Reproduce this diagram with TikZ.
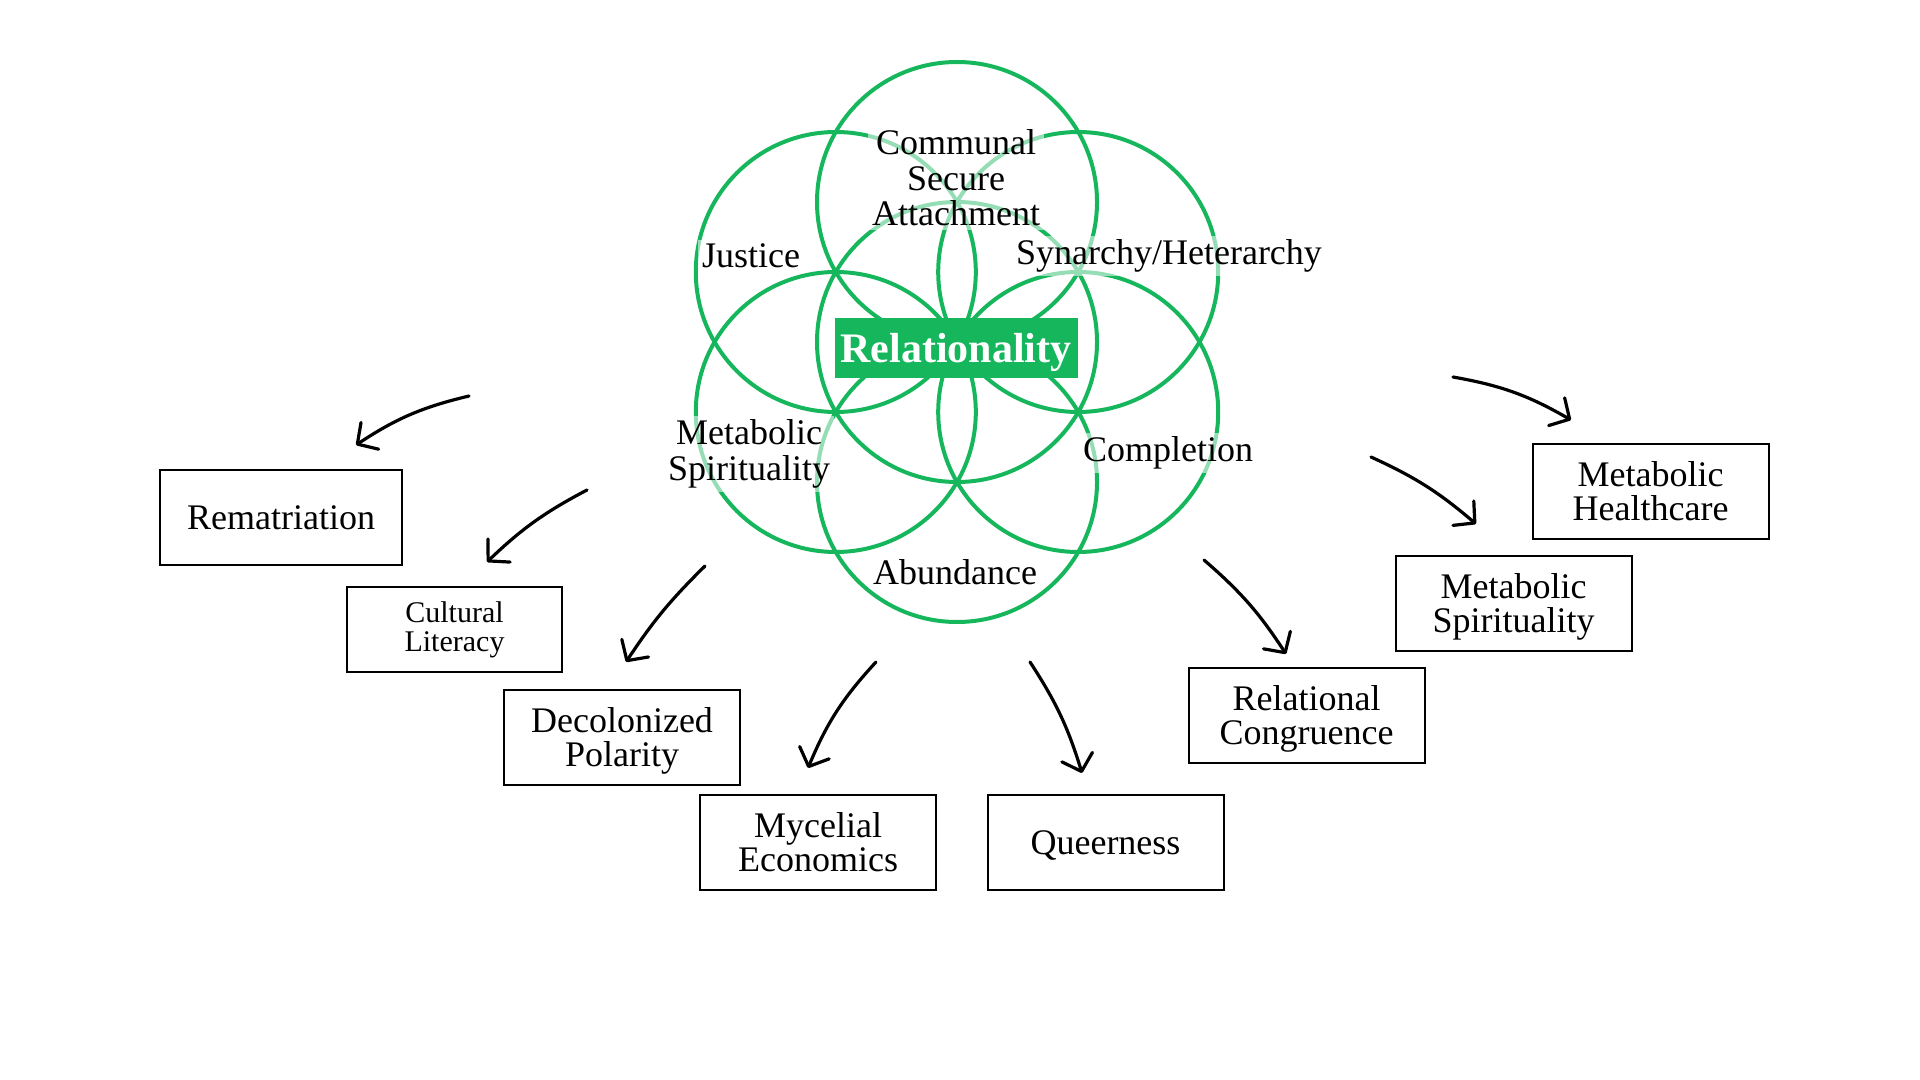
\documentclass[tikz,border=0pt]{standalone}
\usepackage{fontspec}
\setmainfont{Liberation Serif}
\usetikzlibrary{arrows.meta}
\definecolor{lgreen}{RGB}{22,183,92}
\begin{document}
\begin{tikzpicture}[x=0.5pt,y=-0.5pt,
  ring/.style={draw=lgreen,line width=2pt},
  lbl/.style={fill=white,fill opacity=0.55,text opacity=1,inner sep=2pt,align=center,
    font=\fontsize{18}{17.8}\selectfont},
  boxnode/.style={draw,line width=1pt,align=center,inner sep=0pt,
    minimum width=118pt,minimum height=47.5pt,font=\fontsize{18}{17}\selectfont},
  twoline/.style={text height=29.5pt,text depth=0pt},
  oneline/.style={text height=12.4pt,text depth=0pt},
  arr/.style={line width=1.6pt,line cap=round,
    -{Straight Barb[length=7.5pt,width=16pt,line width=1.6pt,round]}}]
\useasboundingbox[fill=white] (0,0) rectangle (1920,1080);
% circles (seed of life)
\coordinate (c0) at (957,342);
\coordinate (ct) at (957,202);
\coordinate (cb) at (957,482);
\coordinate (cul) at (835.8,272);
\coordinate (cur) at (1078.2,272);
\coordinate (cll) at (835.8,412);
\coordinate (clr) at (1078.2,412);
\foreach \c in {c0,ct,cb,cul,cur,cll,clr}{\draw[ring] (\c) circle[radius=140];}
% centre
\node[fill=lgreen,text=white,inner sep=0pt,minimum width=121.5pt,minimum height=30pt,
  text height=19pt,text depth=4.2pt,
  font=\fontsize{21}{21}\selectfont\bfseries] (rel) at (956,348) {Relationality};
% labels
\node[lbl] (csa) at (956,178) {Communal\\Secure\\Attachment};
\node[lbl] (just) at (751,256) {Justice};
\node[lbl] (syn) at (1169,256) {Synarchy/Heterarchy};
\node[lbl] (mspl) at (749,454) {Metabolic\\Spirituality};
\node[lbl] (comp) at (1168,453) {Completion};
\node[lbl] (abun) at (955,572) {Abundance};
% boxes
\node[boxnode,oneline,minimum width=121pt] (rem) at (281,517) {Rematriation};
\node[boxnode,minimum width=107.5pt,minimum height=42.5pt,font=\fontsize{15}{14.5}\selectfont] (cul) at (454.5,629.5) {Cultural\\Literacy};
\node[boxnode,twoline] (dec) at (622,737) {Decolonized\\Polarity};
\node[boxnode,twoline] (myc) at (818,842) {Mycelial\\Economics};
\node[boxnode,oneline] (que) at (1105.5,842) {Queerness};
\node[boxnode,twoline] (rco) at (1306.5,715) {Relational\\Congruence};
\node[boxnode,twoline] (msr) at (1513.5,603) {Metabolic\\Spirituality};
\node[boxnode,twoline] (mhc) at (1650.5,491) {Metabolic\\Healthcare};
% arrow endpoints
\coordinate (a1s) at (469,396);  \coordinate (a1e) at (356,445);
\coordinate (a2s) at (587,490);  \coordinate (a2e) at (487,562);
\coordinate (a3s) at (705,566);  \coordinate (a3e) at (626,662);
\coordinate (a4s) at (876,662);  \coordinate (a4e) at (808,768);
\coordinate (a5s) at (1030,662); \coordinate (a5e) at (1082,773);
\coordinate (a6s) at (1204,560); \coordinate (a6e) at (1286,654);
\coordinate (a7s) at (1371,457); \coordinate (a7e) at (1476,524);
\coordinate (a8s) at (1453,377); \coordinate (a8e) at (1571,420);
\draw[arr] (a1s) to[bend right=10] (a1e);
\draw[arr] (a2s) to[bend right=8] (a2e);
\draw[arr] (a3s) to[bend right=6] (a3e);
\draw[arr] (a4s) to[bend right=10] (a4e);
\draw[arr] (a5s) to[bend left=8] (a5e);
\draw[arr] (a6s) to[bend left=8] (a6e);
\draw[arr] (a7s) to[bend left=8] (a7e);
\draw[arr] (a8s) to[bend left=10] (a8e);
\end{tikzpicture}
\end{document}
